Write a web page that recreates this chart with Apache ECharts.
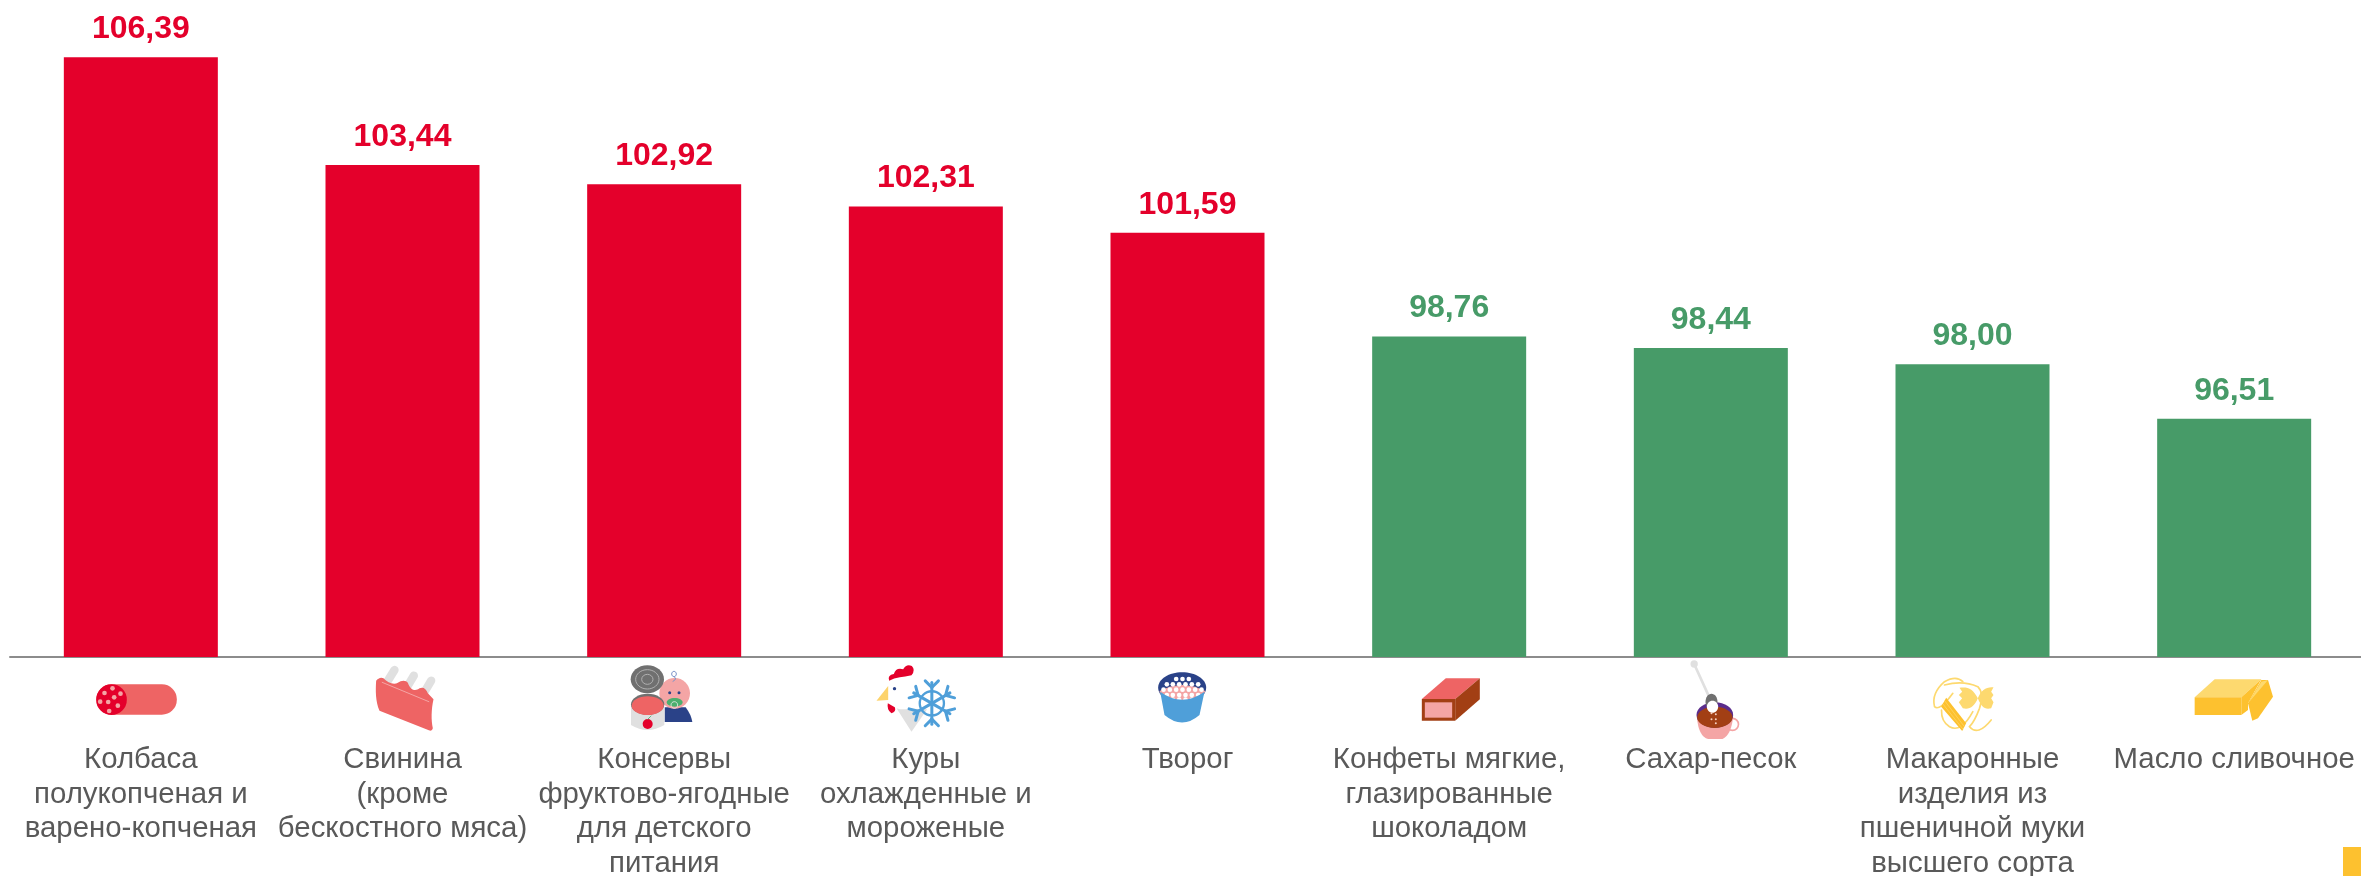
<!DOCTYPE html>
<html><head><meta charset="utf-8">
<style>html,body{margin:0;padding:0;background:#fff}#c{width:2361px;height:876px}</style>
<script src="https://cdn.jsdelivr.net/npm/echarts@6/dist/echarts.min.js"></script>
</head><body><div id="c"></div>
<script>
const categories = [
  'Колбаса\nполукопченая и\nварено-копченая',
  'Свинина\n(кроме\nбескостного мяса)',
  'Консервы\nфруктово-ягодные\nдля детского\nпитания',
  'Куры\nохлажденные и\nмороженые',
  'Творог',
  'Конфеты мягкие,\nглазированные\nшоколадом',
  'Сахар-песок',
  'Макаронные\nизделия из\nпшеничной муки\nвысшего сорта',
  'Масло сливочное'
];
const values = [106.39, 103.44, 102.92, 102.31, 101.59, 98.76, 98.44, 98.00, 96.51];
const RED = '#E4002B', GREEN = '#479B68';
const COL = {salmon:'#EE6464', pink:'#F4A5A5', grey:'#E0E0E0', dgrey:'#707070', navy:'#2A4288', blue:'#4F9FD9',
  brown:'#A23F14', yellow:'#FDC12F', ly:'#FDD96F', purple:'#5B2C8C'};

const fill = (f) => ({fill:f});
const circ = (cx,cy,r,f) => ({type:'circle',shape:{cx,cy,r},style:fill(f)});
const ell = (cx,cy,rx,ry,f) => ({type:'ellipse',shape:{cx,cy,rx,ry},style:fill(f)});
const ring = (cx,cy,rx,ry,s,w) => ({type:'ellipse',shape:{cx,cy,rx,ry},style:{fill:'none',stroke:s,lineWidth:w}});
const poly = (pts,f) => ({type:'polygon',shape:{points:pts},style:fill(f)});
const line = (x1,y1,x2,y2,s,w) => ({type:'line',shape:{x1,y1,x2,y2},style:{stroke:s,lineWidth:w,lineCap:'round'}});
function pathEl(d,f,s,w){ return {type:'path',shape:{pathData:d},style:{fill:f||'none',stroke:s||null,lineWidth:w||0,lineCap:'round'}}; }

function snow(cx,cy,R){
  const out=[ring(cx,cy,R*0.55,R*0.55,COL.blue,7)];
  for(let k=0;k<6;k++){
    const a=Math.PI/2+k*Math.PI/3, c=Math.cos(a), s=Math.sin(a);
    const px=cx+R*0.95*c, py=cy+R*0.95*s;
    out.push(line(cx,cy,px,py,COL.blue,9));
    [[0.72,0.3],[0.72,-0.3]].forEach(([t,o])=>{
      const bx=cx+R*t*c, by=cy+R*t*s;
      out.push(line(bx,by,bx+R*0.3*c-R*o*s,by+R*0.3*s+R*o*c,COL.blue,9));
    });
  }
  return out;
}

function cheese(){
  const rows=[[42,[110,129,148]],[58,[82,100,119,138,157,176]],[74,[72,91,110,129,148,167,186]],[90,[82,100,119,138,157,176]],[104,[100,119,138,157]]];
  const out=[];
  rows.forEach(([y,xs])=>xs.forEach(x=>out.push(circ(x,y,7,'#fff'))));
  return out;
}

// Each icon: offset of its drawing's origin from (bar centre, baseline), drawn at 3 units per pixel
const icons = [
  {ox:80-141, oy:660-657, c:[
    {type:'rect',shape:{x:50,y:73,width:241,height:91,r:45},style:fill(COL.salmon)},
    circ(95,119,46,RED),
    ...[[98,85],[74,99],[122,101],[103,112],[85,126],[61,125],[114,137],[88,153]].map(p=>circ(p[0],p[1],7,COL.pink))
  ]},
  {ox:80-403, oy:660-657, c:[
    line(945,30,925,62,COL.grey,25), line(1003,47,982,82,COL.grey,25), line(1055,62,1035,96,COL.grey,25),
    pathEl('M890 62C895 55 905 50 912 55C925 70 945 75 955 68C965 60 980 60 985 68C995 95 1010 92 1020 85C1030 80 1040 85 1045 100L1062 118C1055 150 1055 180 1060 205Q1058 215 1048 211L900 152C888 125 888 90 890 62Z',COL.salmon),
    line(908,67,1048,125,COL.pink,3)
  ]},
  {ox:610-664.5, oy:660-657, c:[
    pathEl('M165 142L228 142Q245 165 248 186L165 186Z',COL.navy),
    circ(195,100,46,COL.pink), circ(180,98,4.5,COL.navy), circ(208,98,4.5,COL.navy),
    ell(195,127,24,13,'#4CAF6E'), ring(194,135,10,10,'#E8E8E8',2.5),
    ring(193,42,7,8,'#7D94C9',3), pathEl('M193 50Q205 56 190 64','none','#7D94C9',3),
    ell(113,58,50,42,COL.dgrey), ring(113,58,35,29,'#B0B0B0',3), ring(113,58,17,15,'#B0B0B0',3),
    pathEl('M64 132L64 195Q113 225 164 195L164 132Z',COL.grey),
    ell(114,133,50,32,COL.dgrey), ell(114,137,48,28,COL.salmon),
    circ(114,192,15,RED), line(114,178,124,168,'#4CAF6E',2.5)
  ]},
  {ox:870-926, oy:660-657, c:[
    poly([[80,145],[125,215],[172,148]],COL.grey),
    circ(100,100,48,'#fff'),
    pathEl('M58 62Q52 45 72 42Q78 22 100 28Q110 10 126 18Q138 30 125 46Q105 50 90 52Q72 55 58 62Z',RED),
    poly([[55,78],[20,122],[55,120]],'#FDD36B'),
    pathEl('M54 130Q50 150 65 160Q80 155 75 142Z',RED),
    circ(74,86,5,COL.navy),
    ...snow(186,130,66)
  ]},
  {ox:1140-1188, oy:665-657, c:[
    ell(128,68,72,46,COL.navy),
    pathEl('M60 78Q128 42 197 78Q195 100 128 114Q62 100 60 78Z',COL.pink),
    ...cheese(),
    pathEl('M62 80L75 150Q128 195 180 150L195 80Q128 128 62 80Z',COL.blue)
  ]},
  {ox:1400-1450, oy:665-657, c:[
    poly([[68,102],[140,40],[242,40],[168,102]],COL.salmon),
    poly([[168,102],[242,40],[242,103],[168,167]],COL.brown),
    {type:'rect',shape:{x:68,y:102,width:100,height:65},style:fill(COL.brown)},
    {type:'rect',shape:{x:77,y:112,width:82,height:46},style:fill(COL.pink)}
  ]},
  {ox:1660-1711, oy:655-657, c:[
    ring(218,208,18,18,COL.pink,5),
    pathEl('M111 185Q116 245 145 252L188 252Q214 240 220 185Z',COL.pink),
    ell(165,180,55,38,COL.purple), ell(165,187,53,32,COL.brown),
    line(103,27,150,130,COL.grey,8), circ(103,27,11,COL.grey),
    ell(155,140,18,24,COL.dgrey), ell(158,155,17,18,'#fff'),
    ...[[155,175],[168,178],[155,193],[168,193],[168,205]].map(p=>circ(p[0],p[1],3,'#F4D0C0'))
  ]},
  {ox:1920-1973, oy:665-657, c:[
    pathEl('M130 50Q110 30 75 50Q35 85 45 125Q60 140 100 85','none',COL.ly,5),
    pathEl('M75 60Q130 45 175 65Q195 85 180 130Q165 170 150 185Q175 215 215 165','none',COL.ly,5),
    pathEl('M66 135Q65 170 90 185Q125 205 160 140','none',COL.ly,5),
    pathEl('M175 100C160 70 145 65 120 68L128 80L118 90L128 100L118 112L130 130C150 135 165 125 175 100Z',COL.ly),
    pathEl('M175 100C185 75 200 65 222 67L215 80L222 90L215 100L222 112L215 130C195 135 185 125 175 100Z',COL.ly),
    poly([[80,98],[140,175],[128,198],[65,125]],COL.yellow),
    line(76,108,134,184,COL.ly,2), line(71,118,130,192,COL.ly,2)
  ]},
  {ox:2180-2234.5, oy:665-657, c:[
    poly([[245,45],[265,45],[280,95],[235,160],[218,167],[205,115]],COL.yellow),
    poly([[205,115],[245,50],[265,45]],COL.ly),
    poly([[45,97],[105,43],[245,43],[185,97]],COL.ly),
    poly([[45,97],[185,97],[185,150],[45,150]],COL.yellow),
    poly([[185,97],[245,43],[205,115],[205,135],[185,150]],COL.yellow)
  ]}
];

const chart = echarts.init(document.getElementById('c'), null, {renderer:'canvas'});
chart.setOption({
  animation:false,
  backgroundColor:'#fff',
  textStyle:{fontFamily:'"Liberation Sans", Arial, sans-serif'},
  grid:{left:10, top:34.8, width:2355, height:622.2, containLabel:false, outerBoundsMode:'none'},
  xAxis:{type:'category', data:categories,
    axisLine:{show:true, lineStyle:{color:'#8C8C8C', width:2}},
    axisTick:{show:false}, splitLine:{show:false},
    axisLabel:{interval:0, margin:86, color:'#595959', fontSize:29.4, lineHeight:34.5,
      fontFamily:'"Liberation Sans", Arial, sans-serif', verticalAlign:'top'}},
  yAxis:{type:'value', min:90, max:107, show:false},
  graphic:[{type:'rect', right:0, bottom:0, shape:{x:0,y:0,width:18,height:29}, style:{fill:'#FDC12F'}, silent:true}],
  series:[
    {type:'bar', data:values, barWidth:154,
      itemStyle:{color:p=>p.value>100?RED:GREEN},
      label:{show:true, position:'top', distance:12,
        fontFamily:'"Liberation Sans", Arial, sans-serif', fontWeight:'bold', fontSize:32,
        formatter:p=>p.value.toFixed(2).replace('.',','),
        color:'inherit'},
      silent:true},
    {type:'custom', data:categories.map((c,i)=>[i,90]), encode:{x:0,y:1}, clip:false, silent:true, z:5,
      renderItem:(params,api)=>{
        const i=api.value(0), p=api.coord([i,api.value(1)]), ic=icons[i];
        return {type:'group', x:p[0]+ic.ox, y:p[1]+ic.oy, scaleX:1/3, scaleY:1/3, children:ic.c};
      }}
  ]
});
</script></body></html>
